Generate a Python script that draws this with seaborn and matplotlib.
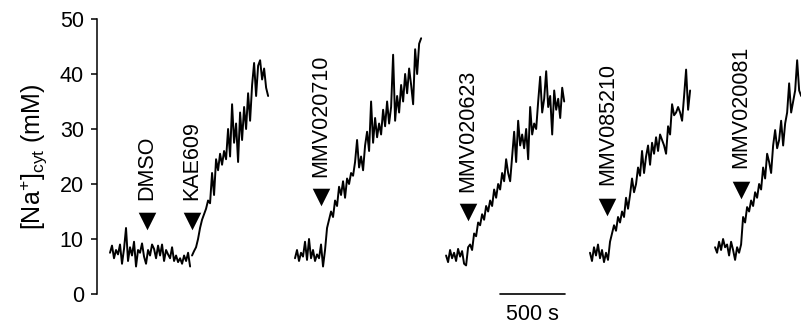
import numpy as np
import pandas as pd
import matplotlib
matplotlib.use("Agg")
import matplotlib.pyplot as plt
import seaborn as sns

# ---------------- data ----------------
step_s = 15.4  # sampling interval (s)

trace1a_start = 100
trace1a = [7.5, 8.8, 6.5, 8.0, 7.2, 9.0, 5.5, 8.2, 12.0, 6.0, 8.5, 7.0, 9.5, 5.0, 8.0, 7.5,
           9.2, 6.8, 5.5, 8.0, 7.0, 9.0, 8.2, 6.5, 8.8, 7.0, 9.0, 6.0, 8.0, 7.2, 6.5, 8.5,
           6.0, 7.0, 5.8, 6.5, 5.5, 7.0, 6.0, 7.5, 5.0]
trace1b_start = 731
trace1b = [7.0, 7.8, 8.5, 10.0, 12.0, 13.5, 14.5, 15.5, 17.0, 16.5, 22.0, 18.0, 24.5, 22.5,
           25.5, 23.5, 26.0, 24.5, 30.0, 25.0, 34.5, 27.5, 31.0, 24.0, 33.0, 28.0, 34.0, 30.0,
           36.5, 31.5, 38.0, 42.0, 36.0, 41.5, 42.5, 39.0, 41.0, 37.5, 36.0]
trace2_start = 1523
trace2 = [6.5, 8.0, 6.0, 7.5, 6.8, 9.5, 6.2, 10.0, 6.5, 8.0, 6.0, 7.2, 6.5, 9.0, 5.0,
          8.0, 12.0, 13.5, 15.0, 14.0, 17.0, 16.0, 19.5, 18.0, 20.5, 17.5, 21.0, 20.0, 22.0,
          21.5, 24.0, 28.0, 23.0, 25.0, 22.5, 27.0, 29.5, 26.0, 35.0, 27.5, 32.0, 28.5, 31.0,
          29.0, 33.5, 30.5, 35.0, 31.0, 34.0, 43.5, 31.5, 36.0, 33.0, 38.0, 35.0, 40.0, 36.5,
          41.0, 38.0, 34.5, 44.5, 40.0, 45.5, 46.5]
trace3_start = 2685
trace3 = [7.0, 5.8, 8.0, 6.5, 7.5, 6.0, 8.2, 6.8, 7.8, 5.5, 5.2,
          8.5, 9.0, 8.0, 11.0, 10.5, 13.0, 12.5, 14.5, 13.5, 16.0, 15.0, 17.0, 16.0, 19.0,
          17.5, 20.0, 19.0, 22.0, 20.5, 24.5, 22.0, 20.5, 25.0, 29.5, 24.0, 31.5, 27.0, 29.0,
          26.5, 30.0, 24.5, 34.0, 29.0, 31.0, 30.0, 35.0, 39.5, 33.0, 35.5, 40.5, 34.0, 36.0,
          29.0, 37.0, 33.5, 35.5, 32.0, 37.5, 35.0]
trace4_start = 3792
trace4 = [7.5, 6.0, 8.5, 7.0, 9.0, 6.5, 8.0, 5.8, 7.5, 6.2,
          9.5, 11.0, 12.5, 11.5, 14.0, 13.0, 15.0, 14.0, 17.5, 15.5, 18.0, 21.0, 18.5, 20.0,
          23.0, 21.5, 26.0, 22.0, 25.0, 27.0, 23.5, 27.5, 25.5, 28.5, 26.0, 29.0, 28.0, 27.0,
          25.5, 30.5, 29.0, 34.5, 32.5, 33.0, 34.0, 33.0, 31.5, 36.0, 40.8, 33.5, 37.0]
trace5_start = 4754
trace5 = [8.5, 7.5, 9.5, 8.0, 10.0, 8.5, 9.0, 7.0, 9.5, 8.0, 6.2, 8.5, 7.5, 9.0,
          14.0, 13.0, 15.8, 15.0, 17.0, 16.0, 18.5, 17.5, 20.0, 19.0, 23.0, 21.0, 25.5, 24.0,
          22.0, 27.0, 29.8, 26.5, 28.0, 31.5, 27.0, 31.0, 33.0, 38.3, 33.0, 35.0, 37.0, 42.5,
          37.0, 36.0]

drug_labels = ["DMSO", "KAE609", "MMV020710", "MMV020623", "MMV085210", "MMV020081"]
drug_times = [385, 731, 1723, 2854, 3925, 4951]
drug_marker_y = [13.3, 13.3, 17.6, 14.9, 15.8, 18.9]
drug_label_y = [17.1, 17.1, 21.3, 18.5, 19.8, 22.9]

yticks = [0, 10, 20, 30, 40, 50]
scalebar_start, scalebar_len = 3100, 500

# ---------------- build table ----------------
segments = [(trace1a_start, trace1a), (trace1b_start, trace1b), (trace2_start, trace2),
            (trace3_start, trace3), (trace4_start, trace4), (trace5_start, trace5)]
frames = []
for i, (t0, vals) in enumerate(segments):
    t = t0 + step_s * np.arange(len(vals))
    frames.append(pd.DataFrame({"t": t, "na": vals, "seg": i}))
df = pd.concat(frames, ignore_index=True)

# ---------------- plot ----------------
sns.set_style("ticks")
plt.rcParams["font.family"] = ["Liberation Sans", "DejaVu Sans"]
plt.rcParams["mathtext.fontset"] = "custom"
plt.rcParams["mathtext.rm"] = "Liberation Sans"
plt.rcParams["mathtext.it"] = "Liberation Sans:italic"
for k in ["text.color", "axes.labelcolor", "xtick.color", "ytick.color", "axes.edgecolor"]:
    plt.rcParams[k] = "black"

fig = plt.figure(figsize=(8.01, 3.27), dpi=100)
ax = fig.add_axes([97 / 801, 33 / 327, 704 / 801, 275 / 327])

sns.lineplot(data=df, x="t", y="na", units="seg", estimator=None, color="black",
             lw=1.4, ax=ax, legend=False, sort=False)
for line in ax.lines:
    line.set_clip_on(False)

ax.scatter(drug_times, drug_marker_y, marker="v", s=160, color="black", zorder=3,
           clip_on=False, linewidths=0)
for t, yl, lab in zip(drug_times, drug_label_y, drug_labels):
    ax.text(t, yl, lab, rotation=90, ha="center", va="bottom", fontsize=15.5)

# scale bar
ax.plot([scalebar_start, scalebar_start + scalebar_len], [0, 0], color="black", lw=1.2,
        clip_on=False)
ax.text(scalebar_start + scalebar_len / 2, -1.8, "500 s", ha="center", va="top",
        fontsize=15.5)

ax.set_xlim(0, 5415)
ax.set_ylim(0, 50)
ax.set_yticks(yticks)
ax.tick_params(axis="y", labelsize=15.5, length=4.5, width=1.1, pad=5, direction="out",
               colors="black")
ax.set_xticks([])
for s in ["top", "right", "bottom"]:
    ax.spines[s].set_visible(False)
ax.spines["left"].set_linewidth(1.1)
ax.spines["left"].set_color("black")
ax.set_xlabel("")
ax.set_ylabel(r"[Na$^{+}$]$_{\rm cyt}$ (mM)", fontsize=18, labelpad=8, color="black")

fig.savefig("out.png", dpi=100)
